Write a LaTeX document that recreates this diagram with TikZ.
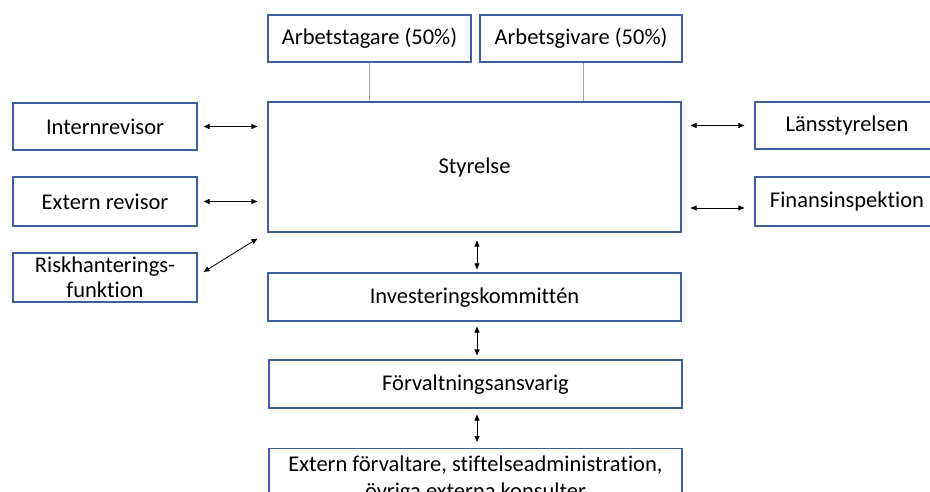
\documentclass[tikz,border=0pt]{standalone}
\usepackage{fontspec}
\setmainfont{Carlito}[Ligatures=NoCommon]
\usetikzlibrary{arrows.meta}
\definecolor{boxblue}{RGB}{62,94,158}
\definecolor{lgray}{RGB}{165,165,165}
\begin{document}
\begin{tikzpicture}[x=1pt,y=-1pt,
  box/.style={draw=boxblue,line width=1.1pt,fill=white,inner sep=0pt,align=center,
    font=\fontsize{22.5}{27}\selectfont},
  arr/.style={{Triangle[length=6pt,width=5pt]}-{Triangle[length=6pt,width=5pt]},line width=0.8pt,black},
  gline/.style={draw=lgray,line width=1pt}]
\useasboundingbox (0,0) rectangle (930,492);
\clip (0,0) rectangle (930,492);
% top owners
\node[box,minimum width=203pt,minimum height=47pt] (at) at (369.5,38.5) {Arbetstagare (50\%)};
\node[box,minimum width=202pt,minimum height=47pt] (ag) at (581,38.5) {Arbetsgivare (50\%)};
% centre column
\node[box,minimum width=413pt,minimum height=130pt,text depth=2pt] (sty) at (474.5,167) {Styrelse};
\node[box,minimum width=413pt,minimum height=48pt,text depth=2pt] (inv) at (474.5,297) {Investeringskommittén};
\node[box,minimum width=413pt,minimum height=58pt,anchor=north,inner ysep=2pt,text depth=0pt] (ext) at (475.5,448)
  {Extern förvaltare, stiftelseadministration,\\övriga externa konsulter};
\node[box,minimum width=413pt,minimum height=48pt,text depth=2pt] (forv) at (475.5,384) {Förvaltningsansvarig};
% left column
\node[box,minimum width=184pt,minimum height=47pt] (ir) at (105,126.5) {Internrevisor};
\node[box,minimum width=184pt,minimum height=49pt] (er) at (105,201.5) {Extern revisor};
\node[box,minimum width=184pt,minimum height=49pt,font=\fontsize{22.5}{25}\selectfont] (rf) at (105,277.5) {Riskhanterings-\\funktion};
% right column
\node[box,minimum width=184pt,minimum height=47pt] (ls) at (847,125.5) {Länsstyrelsen};
\node[box,minimum width=184pt,minimum height=49pt] (fi) at (847,201.5) {Finansinspektion};
% owner lines
\draw[gline] (at.south) -- (at.south |- sty.north);
\draw[gline] ([xshift=2pt]ag.south) -- ([xshift=2pt]ag.south |- sty.north);
% left arrows
\draw[arr] ([xshift=6pt]ir.east) -- ([xshift=-10pt]sty.west |- ir.east);
\draw[arr] ([xshift=6pt]er.east) -- ([xshift=-10pt]sty.west |- er.east);
\draw[arr] ([shift={(6,-5.5)}]rf.east) -- ([shift={(-10,6)}]sty.south west);
% right arrows
\draw[arr] ([xshift=9pt]sty.east |- ls.west) -- ([xshift=-10pt]ls.west);
\draw[arr] ([shift={(9,6.5)}]sty.east |- fi.west) -- ([shift={(-10,6.5)}]fi.west);
% vertical arrows
\draw[arr] ([shift={(2.5,8)}]sty.south) -- ([shift={(2.5,-3)}]sty.south |- inv.north);
\draw[arr] ([shift={(2.5,5)}]inv.south) -- ([shift={(1.5,-4)}]forv.north);
\draw[arr] ([shift={(1.5,6)}]forv.south) -- ([shift={(1.5,-6)}]ext.north);
\end{tikzpicture}
\end{document}
